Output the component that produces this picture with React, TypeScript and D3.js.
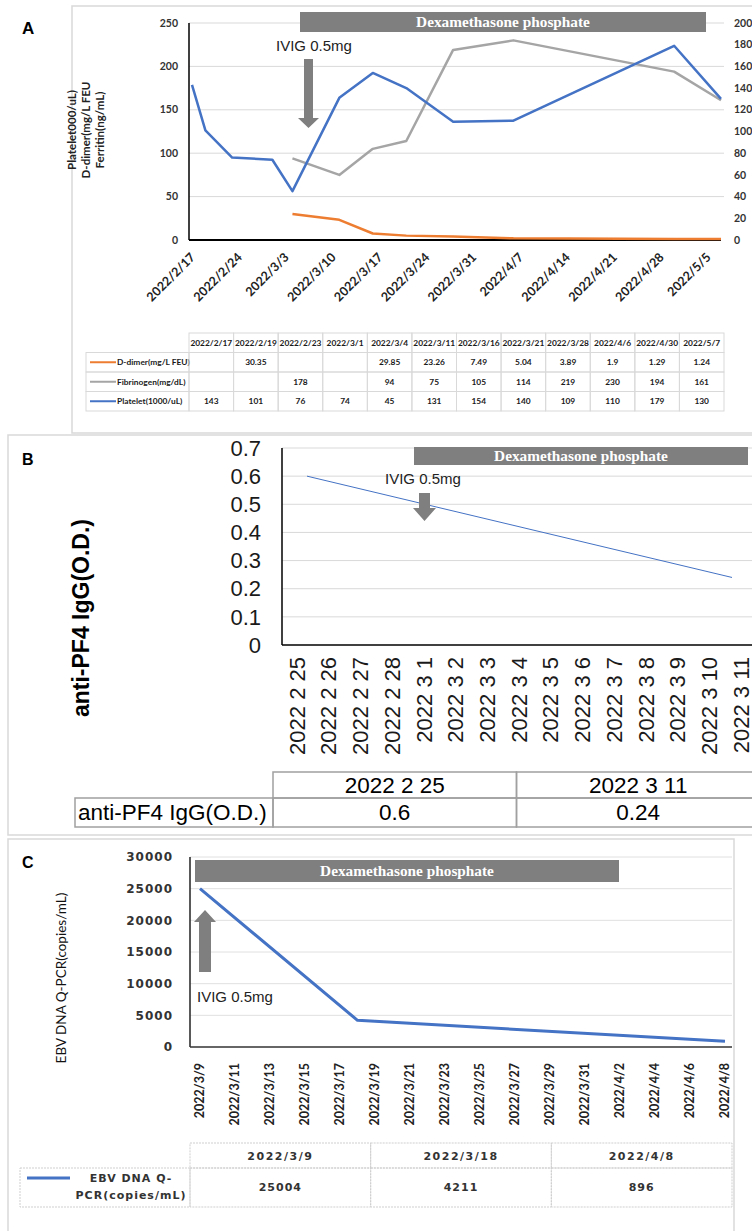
import React from "react";
import * as d3 from "d3";

// ---------- Panel A data ----------
const aDates = ["2022/2/17", "2022/2/19", "2022/2/23", "2022/3/1", "2022/3/4", "2022/3/11", "2022/3/16", "2022/3/21", "2022/3/28", "2022/4/6", "2022/4/30", "2022/5/7"];
const dDimer: (number | null)[] = [null, 30.35, null, null, 29.85, 23.26, 7.49, 5.04, 3.89, 1.9, 1.29, 1.24];
const fibrinogen: (number | null)[] = [null, null, 178, null, 94, 75, 105, 114, 219, 230, 194, 161];
const platelet: (number | null)[] = [143, 101, 76, 74, 45, 131, 154, 140, 109, 110, 179, 130];
const aCurveFrom = 4; // D-dimer & fibrinogen curves are drawn from 2022/3/4 on
const aTicks = ["2022/2/17", "2022/2/24", "2022/3/3", "2022/3/10", "2022/3/17", "2022/3/24", "2022/3/31", "2022/4/7", "2022/4/14", "2022/4/21", "2022/4/28", "2022/5/5"];
const aLeftTicks = [0, 50, 100, 150, 200, 250];
const aRightTicks = [0, 20, 40, 60, 80, 100, 120, 140, 160, 180, 200];
const aYTitle = ["Platelet000/uL)", "D-dimer(mg/L FEU", "Ferritin(ng/mL)"];

// ---------- Panel B data ----------
const bCategories = ["2022 2 25", "2022 2 26", "2022 2 27", "2022 2 28", "2022 3 1", "2022 3 2", "2022 3 3", "2022 3 4", "2022 3 5", "2022 3 6", "2022 3 7", "2022 3 8", "2022 3 9", "2022 3 10", "2022 3 11"];
const bDates = ["2022 2 25", "2022 3 11"];
const bValues = [0.6, 0.24];
const bYTicks = [0, 0.1, 0.2, 0.3, 0.4, 0.5, 0.6, 0.7];

// ---------- Panel C data ----------
const cDates = ["2022/3/9", "2022/3/18", "2022/4/8"];
const cValues = [25004, 4211, 896];
const cTicks = ["2022/3/9", "2022/3/11", "2022/3/13", "2022/3/15", "2022/3/17", "2022/3/19", "2022/3/21", "2022/3/23", "2022/3/25", "2022/3/27", "2022/3/29", "2022/3/31", "2022/4/2", "2022/4/4", "2022/4/6", "2022/4/8"];
const cYTicks = [0, 5000, 10000, 15000, 20000, 25000, 30000];

const parse = d3.timeParse("%Y/%m/%d");
const BLUE = "#4472c4";
const ORANGE = "#ed7d31";
const GRAY = "#a5a5a5";
const BAR = "#7f7f7f";
const FRAME = "#d9d9d9";
const GRID = "#d9d9d9";
const LATO = "Lato, 'Open Sans', sans-serif";
const ARIAL = "'Liberation Sans', Arial, sans-serif";
const SERIF = "'Liberation Serif', 'Times New Roman', serif";
const DJV = "'DejaVu Sans', Verdana, sans-serif";

type P = { d: Date; v: number };

function Arrow({ cx, from, tip, shaft, head, headH }: { cx: number; from: number; tip: number; shaft: number; head: number; headH: number }) {
  const dir = tip > from ? 1 : -1;
  const base = tip - dir * headH;
  const p = d3.path();
  p.moveTo(cx - shaft / 2, from);
  p.lineTo(cx + shaft / 2, from);
  p.lineTo(cx + shaft / 2, base);
  p.lineTo(cx + head / 2, base);
  p.lineTo(cx, tip);
  p.lineTo(cx - head / 2, base);
  p.lineTo(cx - shaft / 2, base);
  p.closePath();
  return <path d={p.toString()} fill={BAR} />;
}

function DexBar({ x0, x1, y0, y1 }: { x0: number; x1: number; y0: number; y1: number }) {
  return (
    <g>
      <rect x={x0} y={y0} width={x1 - x0} height={y1 - y0} fill={BAR} />
      <text x={(x0 + x1) / 2} y={(y0 + y1) / 2} dy="0.35em" textAnchor="middle" fill="#fff" fontFamily={SERIF} fontWeight="bold" fontSize={15.3}>
        Dexamethasone phosphate
      </text>
    </g>
  );
}

export default function App() {
  // ---------- Panel A ----------
  const xA = d3.scaleTime().domain([parse(aDates[0])!, parse(aDates[aDates.length - 1])!]).range([192, 721]);
  const yL = d3.scaleLinear().domain([0, 250]).range([240, 23]);
  const yR = d3.scaleLinear().domain([0, 200]).range([240, 23]);
  const series = (vals: (number | null)[], from = 0): P[] =>
    aDates.map((s, i) => ({ d: parse(s)!, v: vals[i] as number, i })).filter((p) => p.i >= from && p.v != null);
  const lineL = d3.line<P>().x((p) => xA(p.d)).y((p) => yL(p.v));
  const lineR = d3.line<P>().x((p) => xA(p.d)).y((p) => yR(p.v));

  const colA = d3.scaleBand<string>().domain(aDates).range([189, 724]);
  const aRows = [
    { label: "D-dimer(mg/L FEU)", color: ORANGE, vals: dDimer },
    { label: "Fibrinogen(mg/dL)", color: GRAY, vals: fibrinogen },
    { label: "Platelet(1000/uL)", color: BLUE, vals: platelet },
  ];
  const rowA = d3.scaleBand<string>().domain(["hdr", ...aRows.map((r) => r.label)]).range([333, 411]);

  // ---------- Panel B ----------
  const yB = d3.scaleLinear().domain([0, 0.7]).range([645, 448]);
  const xBLabel = d3.scalePoint<string>().domain(bCategories).range([297, 741]);
  const xBLine = d3.scalePoint<string>().domain(bCategories).range([307, 732]);
  const bLine = d3.line<number>().x((_, i) => xBLine(bDates[i])!).y((v) => yB(v));
  const colB = d3.scaleBand<string>().domain(bDates).range([273, 760]);

  // ---------- Panel C ----------
  const xC = d3.scaleTime().domain([parse(cDates[0])!, parse(cDates[cDates.length - 1])!]).range([200, 725]);
  const yC = d3.scaleLinear().domain([0, 30000]).range([1047, 857]);
  const cLine = d3.line<number>().x((_, i) => xC(parse(cDates[i])!)).y((v) => yC(v));
  const colC = d3.scaleBand<string>().domain(cDates).range([190, 732]);

  return (
    <svg width={752} height={1231} style={{ position: "absolute", left: 0, top: 0, background: "#fff" }}>
      <rect x={0} y={0} width={752} height={1231} fill="#fff" />
      {/* frames */}
      <rect x={72} y={6} width={720} height={427} fill="none" stroke={FRAME} strokeWidth={1.5} />
      <rect x={8} y={435} width={780} height={400} fill="none" stroke={FRAME} strokeWidth={1.5} />
      <rect x={8} y={839} width={726} height={420} fill="none" stroke={FRAME} strokeWidth={1.5} />

      {/* ================= Panel A ================= */}
      <text x={22} y={34} fontFamily={ARIAL} fontWeight="bold" fontSize={17}>A</text>
      {aLeftTicks.filter((t) => t > 0).map((t) => (
        <line key={t} x1={189} x2={724} y1={yL(t)} y2={yL(t)} stroke={GRID} strokeWidth={1} />
      ))}
      {aLeftTicks.map((t) => (
        <text key={t} x={178} y={yL(t)} dy="0.35em" textAnchor="end" fontFamily={LATO} fontWeight="bold" fontSize={10.5} fill="#333">{t}</text>
      ))}
      {aRightTicks.map((t) => (
        <text key={t} x={734} y={yR(t)} dy="0.35em" textAnchor="start" fontFamily={LATO} fontWeight="bold" fontSize={10.5} fill="#333">{t}</text>
      ))}
      <g transform="translate(86,130) rotate(-90)">
        {aYTitle.map((s, i) => (
          <text key={s} x={0} y={(i - 1) * 14} dy="0.35em" textAnchor="middle" fontFamily={LATO} fontWeight="bold" fontSize={11.5} fill="#222">{s}</text>
        ))}
      </g>
      <line x1={189} x2={189} y1={23} y2={240} stroke="#000" strokeWidth={1.5} />
      <line x1={189} x2={721} y1={240} y2={240} stroke="#000" strokeWidth={2} />
      {aTicks.map((t) => (
        <text key={t} transform={`translate(${xA(parse(t)!) + 4},258) rotate(-45)`} textAnchor="end" fontFamily={LATO} fontWeight="bold" fontSize={12.5} fill="#222">{t}</text>
      ))}
      <path d={lineL(series(fibrinogen, aCurveFrom))!} fill="none" stroke={GRAY} strokeWidth={2.5} strokeLinejoin="round" />
      <path d={lineL(series(dDimer, aCurveFrom))!} fill="none" stroke={ORANGE} strokeWidth={2.5} strokeLinejoin="round" />
      <path d={lineR(series(platelet))!} fill="none" stroke={BLUE} strokeWidth={2.5} strokeLinejoin="round" />
      <DexBar x0={300} x1={706} y0={12} y1={32} />
      <text x={276} y={50.5} fontFamily={ARIAL} fontSize={15} fill="#222">IVIG 0.5mg</text>
      <Arrow cx={308.5} from={59} tip={128} shaft={9} head={21} headH={10} />

      {/* Panel A table */}
      <g fontFamily={LATO} fontWeight="bold" fontSize={8.4} fill="#1a1a1a">
        {aDates.map((d) => (
          <g key={d}>
            <rect x={colA(d)} y={rowA("hdr")} width={colA.bandwidth()} height={rowA.bandwidth()} fill="none" stroke={GRID} strokeWidth={1} />
            <text x={colA(d)! + colA.bandwidth() / 2} y={rowA("hdr")! + rowA.bandwidth() / 2} dy="0.35em" textAnchor="middle">{d}</text>
          </g>
        ))}
        {aRows.map((r) => (
          <g key={r.label}>
            <rect x={86} y={rowA(r.label)} width={103} height={rowA.bandwidth()} fill="none" stroke={GRID} strokeWidth={1} />
            <line x1={90} x2={116} y1={rowA(r.label)! + rowA.bandwidth() / 2} y2={rowA(r.label)! + rowA.bandwidth() / 2} stroke={r.color} strokeWidth={2} />
            <text x={117} y={rowA(r.label)! + rowA.bandwidth() / 2} dy="0.35em">{r.label}</text>
            {aDates.map((d, i) => (
              <g key={d}>
                <rect x={colA(d)} y={rowA(r.label)} width={colA.bandwidth()} height={rowA.bandwidth()} fill="none" stroke={GRID} strokeWidth={1} />
                {r.vals[i] != null && (
                  <text x={colA(d)! + colA.bandwidth() / 2} y={rowA(r.label)! + rowA.bandwidth() / 2} dy="0.35em" textAnchor="middle">{String(r.vals[i])}</text>
                )}
              </g>
            ))}
          </g>
        ))}
      </g>

      {/* ================= Panel B ================= */}
      <text x={22} y={465} fontFamily={ARIAL} fontWeight="bold" fontSize={16}>B</text>
      {bYTicks.filter((t) => t > 0).map((t) => (
        <line key={t} x1={282} x2={752} y1={yB(t)} y2={yB(t)} stroke={GRID} strokeWidth={1} />
      ))}
      {bYTicks.map((t) => (
        <text key={t} x={261} y={yB(t)} dy="0.35em" textAnchor="end" fontFamily={ARIAL} fontSize={22} fill="#1a1a1a">{String(t)}</text>
      ))}
      <line x1={282} x2={282} y1={448} y2={645} stroke="#000" strokeWidth={1.5} />
      <line x1={282} x2={752} y1={645} y2={645} stroke="#000" strokeWidth={1.5} />
      {bCategories.map((c) => (
        <text key={c} transform={`translate(${xBLabel(c)},657) rotate(-90)`} dy="0.35em" textAnchor="end" fontFamily={ARIAL} fontSize={22} fill="#1a1a1a">{c}</text>
      ))}
      <text transform="translate(81,618) rotate(-90)" dy="0.35em" textAnchor="middle" fontFamily={ARIAL} fontWeight="bold" fontSize={23} fill="#000">anti-PF4 IgG(O.D.)</text>
      <path d={bLine(bValues)!} fill="none" stroke={BLUE} strokeWidth={1} />
      <DexBar x0={414} x1={748} y0={447} y1={465} />
      <text x={385} y={484} fontFamily={ARIAL} fontSize={15} fill="#222">IVIG 0.5mg</text>
      <Arrow cx={424.5} from={493} tip={521} shaft={11} head={23} headH={13} />
      {/* Panel B table */}
      <g fontFamily={ARIAL} fontSize={22.5} fill="#000">
        <rect x={75} y={798} width={198} height={29} fill="none" stroke="#a0a0a0" strokeWidth={1.5} />
        <text x={78} y={812.5} dy="0.35em">anti-PF4 IgG(O.D.)</text>
        {bDates.map((d, i) => (
          <g key={d}>
            <rect x={colB(d)} y={772} width={colB.bandwidth()} height={26} fill="none" stroke="#a0a0a0" strokeWidth={1.5} />
            <rect x={colB(d)} y={798} width={colB.bandwidth()} height={29} fill="none" stroke="#a0a0a0" strokeWidth={1.5} />
            <text x={colB(d)! + colB.bandwidth() / 2} y={785} dy="0.35em" textAnchor="middle">{d}</text>
            <text x={colB(d)! + colB.bandwidth() / 2} y={812.5} dy="0.35em" textAnchor="middle">{String(bValues[i])}</text>
          </g>
        ))}
      </g>

      {/* ================= Panel C ================= */}
      <text x={22} y={868} fontFamily={ARIAL} fontWeight="bold" fontSize={16}>C</text>
      {cYTicks.filter((t) => t > 0).map((t) => (
        <line key={t} x1={190} x2={732} y1={yC(t)} y2={yC(t)} stroke="#e0e0e0" strokeWidth={1} />
      ))}
      {cYTicks.map((t) => (
        <text key={t} x={173} y={yC(t)} dy="0.35em" textAnchor="end" fontFamily={DJV} fontWeight="bold" fontSize={12} letterSpacing={1} fill="#333">{t}</text>
      ))}
      <line x1={190} x2={190} y1={857} y2={1047} stroke="#222" strokeWidth={1.5} />
      <line x1={190} x2={732} y1={1047} y2={1047} stroke="#333" strokeWidth={1.5} />
      {cTicks.map((t) => (
        <text key={t} transform={`translate(${xC(parse(t)!)},1063) rotate(-90)`} dy="0.35em" textAnchor="end" fontFamily={LATO} fontWeight="bold" fontSize={12.5} fill="#222">{t}</text>
      ))}
      <text transform="translate(61,978) rotate(-90)" dy="0.35em" textAnchor="middle" fontFamily={LATO} fontSize={13.5} fill="#111">EBV DNA Q-PCR(copies/mL)</text>
      <path d={cLine(cValues)!} fill="none" stroke={BLUE} strokeWidth={3} strokeLinejoin="round" />
      <DexBar x0={195} x1={619} y0={860} y1={882} />
      <Arrow cx={205} from={972} tip={910} shaft={12} head={22} headH={12} />
      <text x={197} y={1002} fontFamily={ARIAL} fontSize={15} fill="#222">IVIG 0.5mg</text>
      {/* Panel C table */}
      <g fontFamily={DJV} fontWeight="bold" fontSize={11} fill="#333">
        <rect x={20} y={1168} width={170} height={39} fill="none" stroke="#cfcfcf" strokeWidth={1} strokeDasharray="2,1" />
        <line x1={27} x2={70} y1={1178} y2={1178} stroke={BLUE} strokeWidth={3} />
        <text x={131} y={1178} dy="0.35em" textAnchor="middle" letterSpacing={1}>EBV DNA Q-</text>
        <text x={131} y={1195} dy="0.35em" textAnchor="middle" letterSpacing={1}>PCR(copies/mL)</text>
        {cDates.map((d, i) => (
          <g key={d}>
            <rect x={colC(d)} y={1143} width={colC.bandwidth()} height={25} fill="none" stroke="#cfcfcf" strokeWidth={1} strokeDasharray="2,1" />
            <rect x={colC(d)} y={1168} width={colC.bandwidth()} height={39} fill="none" stroke="#cfcfcf" strokeWidth={1} strokeDasharray="2,1" />
            <text x={colC(d)! + colC.bandwidth() / 2} y={1156} dy="0.35em" textAnchor="middle" letterSpacing={1.5}>{d}</text>
            <text x={colC(d)! + colC.bandwidth() / 2} y={1187} dy="0.35em" textAnchor="middle" letterSpacing={1}>{String(cValues[i])}</text>
          </g>
        ))}
      </g>
    </svg>
  );
}
